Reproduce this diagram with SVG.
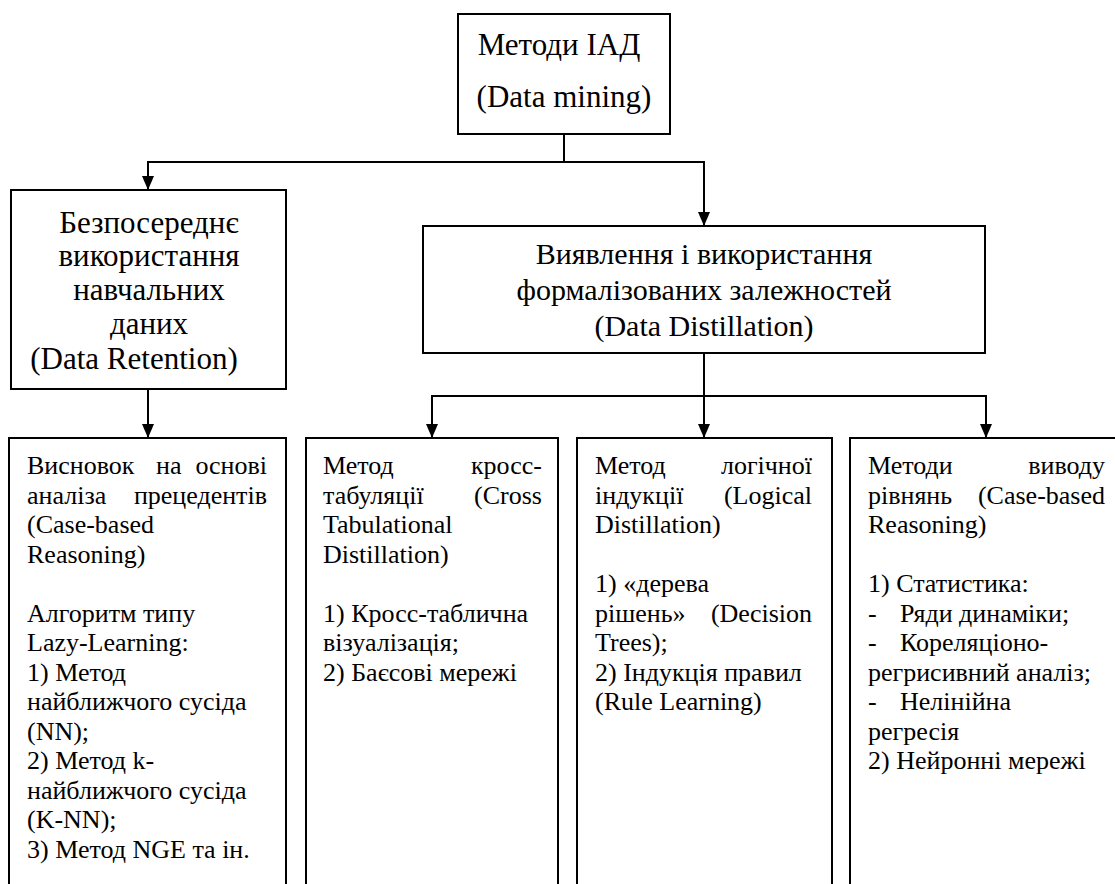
<svg xmlns="http://www.w3.org/2000/svg" width="1115" height="884" viewBox="0 0 1115 884">
<style>
.box{fill:#fff;stroke:#000;stroke-width:2}
.ln{fill:none;stroke:#000;stroke-width:2}
text{font-family:"Liberation Serif","Times New Roman",serif;fill:#000}
.h{font-size:31px;text-anchor:middle}
.m{font-size:30px;text-anchor:middle}
.b{font-size:26px}
.e{text-anchor:end}
</style>
<defs>
<marker id="arr" markerUnits="userSpaceOnUse" markerWidth="12" markerHeight="14" refX="6" refY="14" orient="0">
<path d="M0,0 L12,0 L6,14 z" fill="#000"/>
</marker>
</defs>
<rect width="1115" height="884" fill="#fff"/>
<g id="connectors">
<path class="ln" d="M564,134 V162"/>
<path class="ln" d="M564,162 H148 V190" marker-end="url(#arr)"/>
<path class="ln" d="M564,162 H704 V226" marker-end="url(#arr)"/>
<path class="ln" d="M148,389 V438" marker-end="url(#arr)"/>
<path class="ln" d="M704,353 V438" marker-end="url(#arr)"/>
<path class="ln" d="M704,396 H432 V438" marker-end="url(#arr)"/>
<path class="ln" d="M704,396 H986 V438" marker-end="url(#arr)"/>
</g>
<g id="root">
<rect class="box" x="458" y="14" width="212" height="120"/>
<text class="h" x="559" y="55">Методи ІАД</text>
<text class="h" x="564" y="107">(Data mining)</text>
</g>
<g id="retention">
<rect class="box" x="11" y="190" width="275" height="199"/>
<text class="h" x="149" y="233">Безпосереднє</text>
<text class="h" x="149" y="266">використання</text>
<text class="h" x="149" y="300">навчальних</text>
<text class="h" x="149" y="334">даних</text>
<text class="h" x="134" y="369">(Data Retention)</text>
</g>
<g id="distillation">
<rect class="box" x="423" y="226" width="562" height="127"/>
<text class="m" x="704" y="264">Виявлення і використання</text>
<text class="m" x="704" y="300">формалізованих залежностей</text>
<text class="m" x="704" y="336">(Data Distillation)</text>
</g>
<g id="case-based">
<rect class="box" x="9" y="438" width="277" height="480"/>
<text class="b" x="27" y="474">Висновок</text>
<text class="b" x="156" y="474">на</text>
<text class="b e" x="267" y="474">основі</text>
<text class="b" x="27" y="503.5">аналіза</text>
<text class="b e" x="267" y="503.5">прецедентів</text>
<text class="b" x="27" y="533">(Case-based</text>
<text class="b" x="27" y="562.5">Reasoning)</text>
<text class="b" x="27" y="621.5">Алгоритм типу</text>
<text class="b" x="27" y="651">Lazy-Learning:</text>
<text class="b" x="27" y="680.5">1) Метод</text>
<text class="b" x="27" y="710">найближчого сусіда</text>
<text class="b" x="27" y="739.5">(NN);</text>
<text class="b" x="27" y="769">2) Метод k-</text>
<text class="b" x="27" y="798.5">найближчого сусіда</text>
<text class="b" x="27" y="828">(K-NN);</text>
<text class="b" x="27" y="857.5">3) Метод NGE та ін.</text>
</g>
<g id="cross-tab">
<rect class="box" x="306" y="438" width="252" height="480"/>
<text class="b" x="323" y="474">Метод</text>
<text class="b e" x="542" y="474">кросс-</text>
<text class="b" x="323" y="503.5">табуляції</text>
<text class="b e" x="542" y="503.5">(Cross</text>
<text class="b" x="323" y="533">Tabulational</text>
<text class="b" x="323" y="562.5">Distillation)</text>
<text class="b" x="323" y="621.5">1) Кросс-таблична</text>
<text class="b" x="323" y="651">візуалізація;</text>
<text class="b" x="323" y="680.5">2) Баєсові мережі</text>
</g>
<g id="logical">
<rect class="box" x="577" y="438" width="255" height="480"/>
<text class="b" x="595" y="474">Метод</text>
<text class="b e" x="812" y="474">логічної</text>
<text class="b" x="595" y="503.5">індукції</text>
<text class="b e" x="812" y="503.5">(Logical</text>
<text class="b" x="595" y="533">Distillation)</text>
<text class="b" x="595" y="592">1) «дерева</text>
<text class="b" x="595" y="621.5">рішень»</text>
<text class="b e" x="812" y="621.5">(Decision</text>
<text class="b" x="595" y="651">Trees);</text>
<text class="b" x="595" y="680.5">2) Індукція правил</text>
<text class="b" x="595" y="710">(Rule Learning)</text>
</g>
<g id="equations">
<rect class="box" x="850" y="438" width="300" height="480"/>
<text class="b" x="868" y="474">Методи</text>
<text class="b e" x="1105" y="474">виводу</text>
<text class="b" x="868" y="503.5">рівнянь</text>
<text class="b e" x="1105" y="503.5">(Case-based</text>
<text class="b" x="868" y="533">Reasoning)</text>
<text class="b" x="868" y="592">1) Статистика:</text>
<text class="b" x="868" y="621.5">-</text>
<text class="b" x="900" y="621.5">Ряди динаміки;</text>
<text class="b" x="868" y="651">-</text>
<text class="b" x="900" y="651">Кореляціоно-</text>
<text class="b" x="868" y="680.5">регрисивний аналіз;</text>
<text class="b" x="868" y="710">-</text>
<text class="b" x="900" y="710">Нелінійна</text>
<text class="b" x="868" y="739.5">регресія</text>
<text class="b" x="868" y="769">2) Нейронні мережі</text>
</g>
</svg>
